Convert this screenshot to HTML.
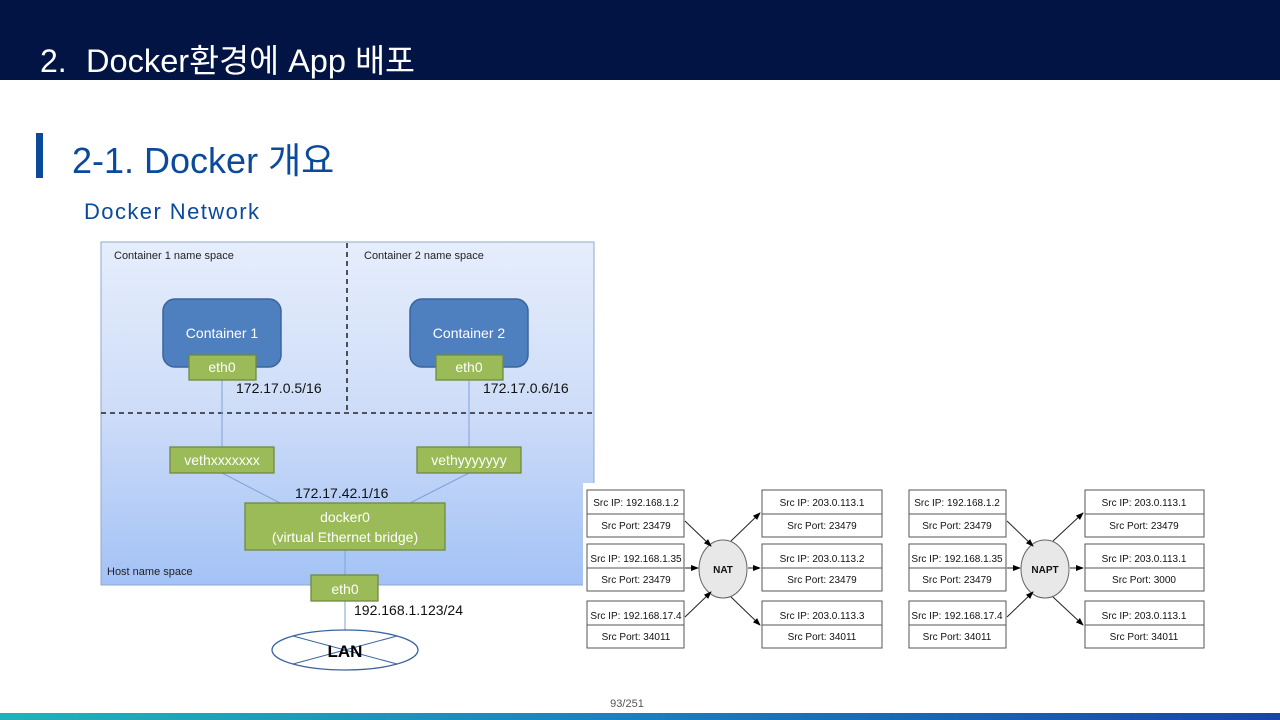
<!DOCTYPE html>
<html><head><meta charset="utf-8"><style>
html,body{margin:0;padding:0;width:1280px;height:720px;overflow:hidden;background:#fff;}
svg{display:block;}
</style></head><body>
<svg width="1280" height="720" viewBox="0 0 1280 720" xmlns="http://www.w3.org/2000/svg" font-family="'Liberation Sans','Noto Sans CJK KR',sans-serif">
<defs>
<linearGradient id="bg" x1="0" y1="0" x2="0" y2="1">
<stop offset="0" stop-color="#e6eefc"/><stop offset="0.5" stop-color="#cddcf8"/><stop offset="1" stop-color="#a3c2f6"/></linearGradient>
<linearGradient id="bar" x1="0" y1="0" x2="1" y2="0">
<stop offset="0" stop-color="#1fb3b8"/><stop offset="0.5" stop-color="#1a7fc0"/><stop offset="1" stop-color="#1646a8"/></linearGradient>
<marker id="ar" markerWidth="8" markerHeight="8" refX="7" refY="4" orient="auto" markerUnits="userSpaceOnUse"><path d="M0,1 L8,4 L0,7 Z" fill="#000"/></marker>
</defs>
<rect x="0" y="0" width="1280" height="80" fill="#021443"/>
<text x="40" y="72" font-size="32" fill="#fff">2.</text>
<text x="86" y="72" font-size="32.5" fill="#fff" textLength="329" lengthAdjust="spacingAndGlyphs">Docker환경에 App 배포</text>
<rect x="36" y="133" width="7" height="45" fill="#0b4a9a"/>
<text x="72" y="173" font-size="36" fill="#0b4a9a">2-1. Docker 개요</text>
<text x="84" y="219" font-size="22" fill="#0b4a9a" textLength="175" lengthAdjust="spacing">Docker Network</text>

<!-- left diagram -->
<rect x="101" y="242" width="493" height="343" fill="url(#bg)" stroke="#8fa8d0" stroke-width="1"/>
<line x1="347" y1="243" x2="347" y2="410" stroke="#000" stroke-dasharray="5,4" stroke-width="1.3"/>
<line x1="101" y1="413" x2="594" y2="413" stroke="#000" stroke-dasharray="5,4" stroke-width="1.3"/>
<text x="114" y="259" font-size="11" fill="#222">Container 1 name space</text>
<text x="364" y="259" font-size="11" fill="#222">Container 2 name space</text>
<text x="107" y="575" font-size="11" fill="#222">Host name space</text>
<g stroke="#7fa3d6" stroke-width="1">
<line x1="222" y1="380" x2="222" y2="447"/><line x1="469" y1="380" x2="469" y2="447"/>
<line x1="222" y1="473" x2="280" y2="503"/><line x1="469" y1="473" x2="410" y2="503"/>
<line x1="345" y1="550" x2="345" y2="575"/><line x1="345" y1="601" x2="345" y2="632"/>
</g>
<rect x="163" y="299" width="118" height="68" rx="12" fill="#4e7fbf" stroke="#3a64a0" stroke-width="1.5"/>
<rect x="410" y="299" width="118" height="68" rx="12" fill="#4e7fbf" stroke="#3a64a0" stroke-width="1.5"/>
<text x="222" y="338" font-size="14" fill="#fff" text-anchor="middle">Container 1</text>
<text x="469" y="338" font-size="14" fill="#fff" text-anchor="middle">Container 2</text>
<g fill="#9bbb59" stroke="#71893f" stroke-width="1.3">
<rect x="189" y="355" width="67" height="25"/><rect x="436" y="355" width="67" height="25"/>
<rect x="170" y="447" width="104" height="26"/><rect x="417" y="447" width="104" height="26"/>
<rect x="245" y="503" width="200" height="47"/><rect x="311" y="575" width="67" height="26"/>
</g>
<g fill="#fff" font-size="14" text-anchor="middle">
<text x="222" y="372">eth0</text><text x="469" y="372">eth0</text>
<text x="222" y="465">vethxxxxxxx</text><text x="469" y="465">vethyyyyyyy</text>
<text x="345" y="522">docker0</text><text x="345" y="542">(virtual Ethernet bridge)</text>
<text x="345" y="594">eth0</text>
</g>
<g font-size="14" fill="#111">
<text x="236" y="393">172.17.0.5/16</text><text x="483" y="393">172.17.0.6/16</text>
<text x="295" y="498">172.17.42.1/16</text><text x="354" y="615">192.168.1.123/24</text>
</g>
<ellipse cx="345" cy="650" rx="73" ry="20" fill="#fff" stroke="#3a64a0" stroke-width="1.3"/>
<line x1="293" y1="636" x2="397" y2="664" stroke="#3a64a0"/><line x1="293" y1="664" x2="397" y2="636" stroke="#3a64a0"/>
<text x="345" y="657" font-size="17" font-weight="bold" text-anchor="middle" fill="#000">LAN</text>

<!-- NAT panel -->
<rect x="583" y="483" width="640" height="170" fill="#fff"/>
<g font-size="10" fill="#111" stroke="#555">
<g fill="#fff" stroke-width="1">
<rect x="587" y="490" width="97" height="47"/><rect x="587" y="544" width="97" height="47"/><rect x="587" y="601" width="97" height="47"/>
<rect x="762" y="490" width="120" height="47"/><rect x="762" y="544" width="120" height="47"/><rect x="762" y="601" width="120" height="47"/>
<rect x="909" y="490" width="97" height="47"/><rect x="909" y="544" width="97" height="47"/><rect x="909" y="601" width="97" height="47"/>
<rect x="1085" y="490" width="119" height="47"/><rect x="1085" y="544" width="119" height="47"/><rect x="1085" y="601" width="119" height="47"/>
</g>
<g stroke-width="1">
<line x1="587" y1="514" x2="684" y2="514"/><line x1="587" y1="568" x2="684" y2="568"/><line x1="587" y1="625" x2="684" y2="625"/>
<line x1="762" y1="514" x2="882" y2="514"/><line x1="762" y1="568" x2="882" y2="568"/><line x1="762" y1="625" x2="882" y2="625"/>
<line x1="909" y1="514" x2="1006" y2="514"/><line x1="909" y1="568" x2="1006" y2="568"/><line x1="909" y1="625" x2="1006" y2="625"/>
<line x1="1085" y1="514" x2="1204" y2="514"/><line x1="1085" y1="568" x2="1204" y2="568"/><line x1="1085" y1="625" x2="1204" y2="625"/>
</g>
</g>
<ellipse cx="723" cy="569" rx="24" ry="29" fill="#e8e8e8" stroke="#666"/>
<ellipse cx="1045" cy="569" rx="24" ry="29" fill="#e8e8e8" stroke="#666"/>
<g stroke="#222" stroke-width="1" marker-end="url(#ar)">
<line x1="685" y1="521" x2="711" y2="546"/><line x1="685" y1="568" x2="698" y2="568"/><line x1="685" y1="617" x2="711" y2="592"/>
<line x1="731" y1="541" x2="760" y2="513"/><line x1="748" y1="568" x2="760" y2="568"/><line x1="731" y1="597" x2="760" y2="625"/>
<line x1="1007" y1="521" x2="1033" y2="546"/><line x1="1007" y1="568" x2="1020" y2="568"/><line x1="1007" y1="617" x2="1033" y2="592"/>
<line x1="1053" y1="541" x2="1083" y2="513"/><line x1="1070" y1="568" x2="1083" y2="568"/><line x1="1053" y1="597" x2="1083" y2="625"/>
</g>
<g font-size="10" fill="#111" text-anchor="middle">
<text x="723" y="573" font-weight="bold">NAT</text><text x="1045" y="573" font-weight="bold">NAPT</text>
<text x="636" y="506">Src IP: 192.168.1.2</text><text x="636" y="529">Src Port: 23479</text>
<text x="636" y="562">Src IP: 192.168.1.35</text><text x="636" y="583">Src Port: 23479</text>
<text x="636" y="619">Src IP: 192.168.17.4</text><text x="636" y="640">Src Port: 34011</text>
<text x="822" y="506">Src IP: 203.0.113.1</text><text x="822" y="529">Src Port: 23479</text>
<text x="822" y="562">Src IP: 203.0.113.2</text><text x="822" y="583">Src Port: 23479</text>
<text x="822" y="619">Src IP: 203.0.113.3</text><text x="822" y="640">Src Port: 34011</text>
<text x="957" y="506">Src IP: 192.168.1.2</text><text x="957" y="529">Src Port: 23479</text>
<text x="957" y="562">Src IP: 192.168.1.35</text><text x="957" y="583">Src Port: 23479</text>
<text x="957" y="619">Src IP: 192.168.17.4</text><text x="957" y="640">Src Port: 34011</text>
<text x="1144" y="506">Src IP: 203.0.113.1</text><text x="1144" y="529">Src Port: 23479</text>
<text x="1144" y="562">Src IP: 203.0.113.1</text><text x="1144" y="583">Src Port: 3000</text>
<text x="1144" y="619">Src IP: 203.0.113.1</text><text x="1144" y="640">Src Port: 34011</text>
</g>
<text x="627" y="707" font-size="11" fill="#555" text-anchor="middle">93/251</text>
<rect x="0" y="713" width="1280" height="7" fill="url(#bar)"/>
</svg>
</body></html>
